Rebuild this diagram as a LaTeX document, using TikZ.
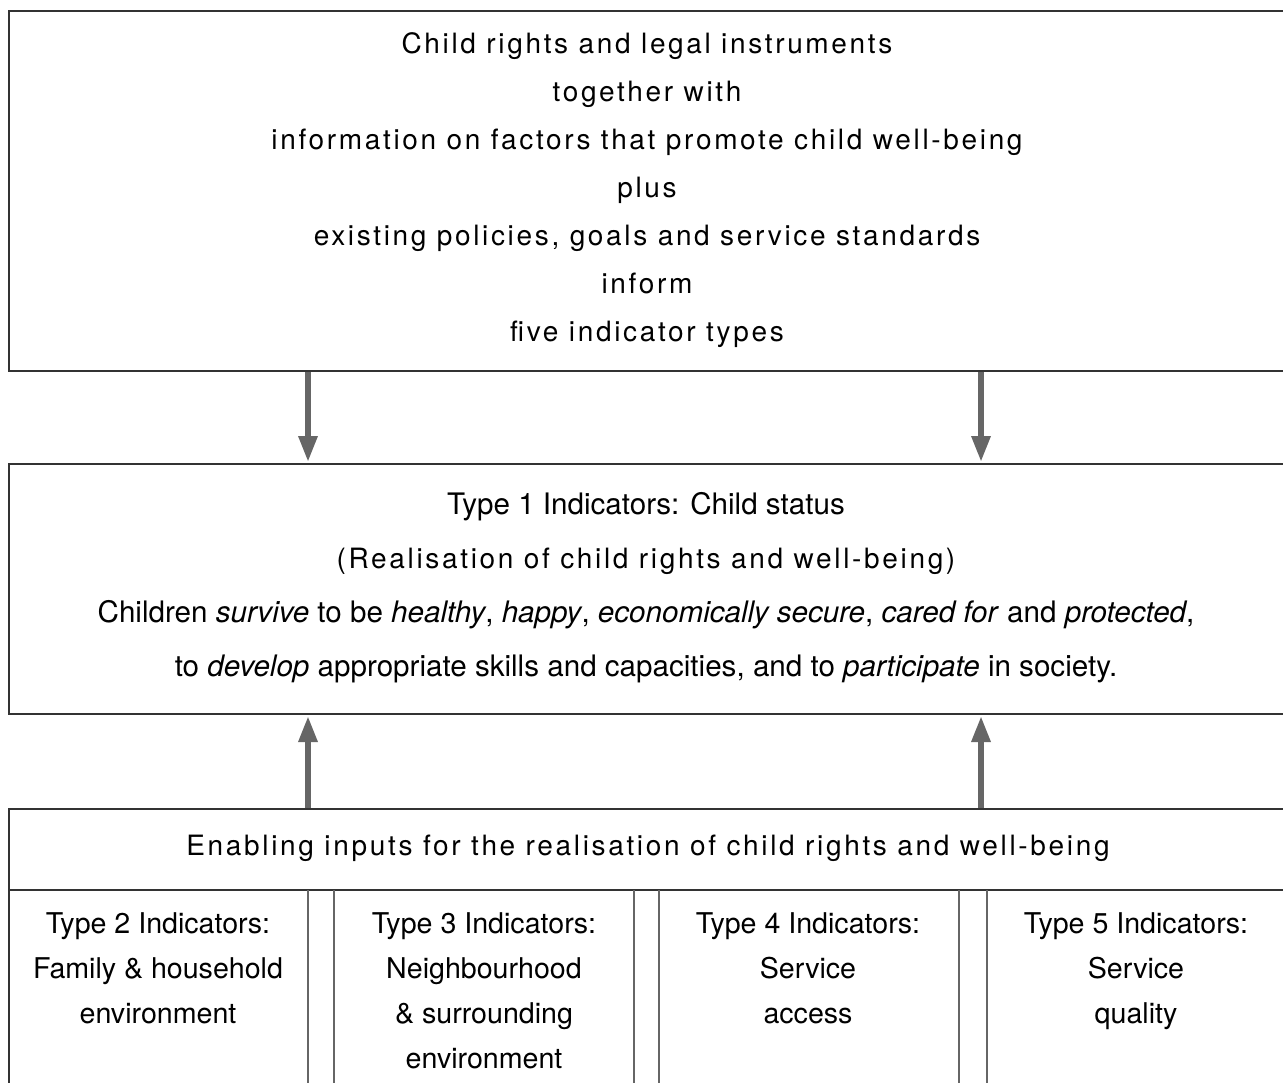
\documentclass[tikz,border=0pt]{standalone}
\usepackage{fontspec}
\setmainfont{TeX Gyre Heros}
\newfontfamily\spacedfont[LetterSpace=9.5]{TeX Gyre Heros}
\usetikzlibrary{arrows.meta}

\begin{document}
\begin{tikzpicture}[x=0.5pt,y=-0.5pt,
	box/.style={draw=black!80,line width=1pt,inner sep=0pt,anchor=north west},
	colline/.style={draw=black!60,line width=1pt},
	arr/.style={draw=black!60,line width=3pt,-{Triangle[length=13pt,width=9pt]}},
	spaced/.style={font=\fontsize{14}{24}\spacedfont,align=center},
	plain/.style={font=\fontsize{14.8}{27}\selectfont,align=center},
	coltext/.style={font=\fontsize{14.3}{22.5}\selectfont,align=center,anchor=north}]
	\useasboundingbox (0,0) rectangle (1283,1082);
	\clip (0,0) rectangle (1283,1082);
	% Define the boxes
	\node[box,minimum width=650pt,minimum height=180pt] (top) at (8,10) {};
	\node[box,minimum width=650pt,minimum height=125pt] (mid) at (8,463) {};
	\node[box,minimum width=650pt,minimum height=200pt] (bot) at (8,808) {};
	\coordinate (hdr) at (8,890);
	\draw[box] (hdr) -- (hdr -| bot.east);
	% Column separators
	\foreach \x in {308,334,634,659,959,987} \draw[colline] (\x,890) -- (\x,1090);
	% Arrows between the boxes
	\coordinate (ca) at (308,0);
	\coordinate (cb) at (981,0);
	\foreach \c in {ca,cb}{
		\draw[arr] (top.south -| \c) -- ([yshift=0.5pt]mid.north -| \c);
		\draw[arr] (bot.north -| \c) -- ([yshift=-0.5pt]mid.south -| \c);}
	% Texts
	\node[spaced] (toptext) at (647,190) {Child rights and legal instruments\\together with\\information on factors that promote child well-being\\plus\\existing policies, goals and service standards\\inform\\five indicator types};
	\node[plain] (midtext) at (646,588) {Type 1 Indicators: Child status\\
		{\fontsize{14}{27}\spacedfont (Realisation of child rights and well-being)}\\
		Children \textit{survive} to be \textit{healthy}, \textit{happy}, \textit{economically secure}, \textit{cared for} and \textit{protected},\\
		to \textit{develop} appropriate skills and capacities, and to \textit{participate} in society.};
	\node[spaced] (hdrtext) at (648,848) {Enabling inputs for the realisation of child rights and well-being};
	\node[coltext] (t2) at (158,906) {Type 2 Indicators:\\Family \& household\\environment};
	\node[coltext] (t3) at (484,906) {Type 3 Indicators:\\Neighbourhood\\\& surrounding\\environment};
	\node[coltext] (t4) at (808,906) {Type 4 Indicators:\\Service\\access};
	\node[coltext] (t5) at (1136,906) {Type 5 Indicators:\\Service\\quality};
\end{tikzpicture}
\end{document}
